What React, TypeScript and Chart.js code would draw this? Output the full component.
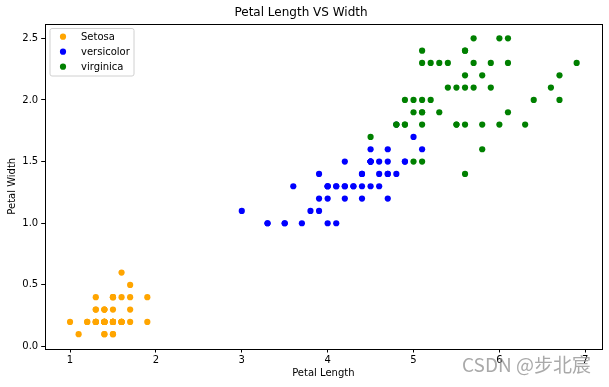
import { useEffect, useRef } from "react";
import { Chart, registerables } from "chart.js";
Chart.register(...registerables);

const seriesNames = ["Setosa", "versicolor", "virginica"];
const seriesColors = ["#FFA500", "#0000FF", "#008000"];

const setosaLength = [1.4, 1.4, 1.3, 1.5, 1.4, 1.7, 1.4, 1.5, 1.4, 1.5, 1.5, 1.6, 1.4, 1.1, 1.2, 1.5, 1.3, 1.4, 1.7, 1.5, 1.7, 1.5, 1.0, 1.7, 1.9, 1.6, 1.6, 1.5, 1.4, 1.6, 1.6, 1.5, 1.5, 1.4, 1.5, 1.2, 1.3, 1.4, 1.3, 1.5, 1.3, 1.3, 1.3, 1.6, 1.9, 1.4, 1.6, 1.4, 1.5, 1.4];
const setosaWidth = [0.2, 0.2, 0.2, 0.2, 0.2, 0.4, 0.3, 0.2, 0.2, 0.1, 0.2, 0.2, 0.1, 0.1, 0.2, 0.4, 0.4, 0.3, 0.3, 0.3, 0.2, 0.4, 0.2, 0.5, 0.2, 0.2, 0.4, 0.2, 0.2, 0.2, 0.2, 0.4, 0.1, 0.2, 0.2, 0.2, 0.2, 0.1, 0.2, 0.2, 0.3, 0.3, 0.2, 0.6, 0.4, 0.3, 0.2, 0.2, 0.2, 0.2];

const versicolorLength = [4.7, 4.5, 4.9, 4.0, 4.6, 4.5, 4.7, 3.3, 4.6, 3.9, 3.5, 4.2, 4.0, 4.7, 3.6, 4.4, 4.5, 4.1, 4.5, 3.9, 4.8, 4.0, 4.9, 4.7, 4.3, 4.4, 4.8, 5.0, 4.5, 3.5, 3.8, 3.7, 3.9, 5.1, 4.5, 4.5, 4.7, 4.4, 4.1, 4.0, 4.4, 4.6, 4.0, 3.3, 4.2, 4.2, 4.2, 4.3, 3.0, 4.1];
const versicolorWidth = [1.4, 1.5, 1.5, 1.3, 1.5, 1.3, 1.6, 1.0, 1.3, 1.4, 1.0, 1.5, 1.0, 1.4, 1.3, 1.4, 1.5, 1.0, 1.5, 1.1, 1.8, 1.3, 1.5, 1.2, 1.3, 1.4, 1.4, 1.7, 1.5, 1.0, 1.1, 1.0, 1.2, 1.6, 1.5, 1.6, 1.5, 1.3, 1.3, 1.3, 1.2, 1.4, 1.2, 1.0, 1.3, 1.2, 1.3, 1.3, 1.1, 1.3];

const virginicaLength = [6.0, 5.1, 5.9, 5.6, 5.8, 6.6, 4.5, 6.3, 5.8, 6.1, 5.1, 5.3, 5.5, 5.0, 5.1, 5.3, 5.5, 6.7, 6.9, 5.0, 5.7, 4.9, 6.7, 4.9, 5.7, 6.0, 4.8, 4.9, 5.6, 5.8, 6.1, 6.4, 5.6, 5.1, 5.6, 6.1, 5.6, 5.5, 4.8, 5.4, 5.6, 5.1, 5.1, 5.9, 5.7, 5.2, 5.0, 5.2, 5.4, 5.1];
const virginicaWidth = [2.5, 1.9, 2.1, 1.8, 2.2, 2.1, 1.7, 1.8, 1.8, 2.5, 2.0, 1.9, 2.1, 2.0, 2.4, 2.3, 1.8, 2.2, 2.3, 1.5, 2.3, 2.0, 2.0, 1.8, 2.1, 1.8, 1.8, 1.8, 2.1, 1.6, 1.9, 2.0, 2.2, 1.5, 1.4, 2.3, 2.4, 1.8, 1.8, 2.1, 2.4, 2.3, 1.9, 2.3, 2.5, 2.3, 1.9, 2.0, 2.3, 1.8];

const xTicks = [1, 2, 3, 4, 5, 6, 7];
const yTicks = [0.0, 0.5, 1.0, 1.5, 2.0, 2.5];

const titleText = "Petal Length VS Width";
const xTitle = "Petal Length";
const yTitle = "Petal Width";
const watermark = "CSDN @步北宸";

const FONT = "'DejaVu Sans', sans-serif";

function toPoints(xs: number[], ys: number[]) {
  return xs.map((x, i) => ({ x, y: ys[i] }));
}

const framePlugin = {
  id: "frame",
  afterDraw(chart: any) {
    const { ctx, chartArea } = chart;
    ctx.save();
    ctx.strokeStyle = "#000";
    ctx.lineWidth = 1;
    ctx.strokeRect(
      Math.round(chartArea.left) + 0.5,
      Math.round(chartArea.top) + 0.5,
      Math.round(chartArea.right) - Math.round(chartArea.left),
      Math.round(chartArea.bottom) - Math.round(chartArea.top)
    );
    ctx.restore();
  },
};

const legendPlugin = {
  id: "mplLegend",
  afterDraw(chart: any) {
    const { ctx } = chart;
    const x0 = 50, y0 = 28.5, w = 84, h = 47.5;
    ctx.save();
    ctx.fillStyle = "rgba(255,255,255,0.8)";
    ctx.strokeStyle = "#d0d0d0";
    ctx.lineWidth = 1;
    ctx.beginPath();
    const r = 2;
    ctx.moveTo(x0 + r, y0);
    ctx.lineTo(x0 + w - r, y0);
    ctx.quadraticCurveTo(x0 + w, y0, x0 + w, y0 + r);
    ctx.lineTo(x0 + w, y0 + h - r);
    ctx.quadraticCurveTo(x0 + w, y0 + h, x0 + w - r, y0 + h);
    ctx.lineTo(x0 + r, y0 + h);
    ctx.quadraticCurveTo(x0, y0 + h, x0, y0 + h - r);
    ctx.lineTo(x0, y0 + r);
    ctx.quadraticCurveTo(x0, y0, x0 + r, y0);
    ctx.closePath();
    ctx.fill();
    ctx.stroke();
    ctx.font = `10px ${FONT}`;
    ctx.textBaseline = "middle";
    ctx.textAlign = "left";
    chart.data.datasets.forEach((ds: any, i: number) => {
      const cy = 36.7 + i * 15;
      ctx.fillStyle = ds.backgroundColor;
      ctx.beginPath();
      ctx.arc(63, cy, 3.1, 0, Math.PI * 2);
      ctx.fill();
      ctx.fillStyle = "#000";
      ctx.fillText(ds.label, 81, cy + 0.5);
    });
    ctx.restore();
  },
};

const watermarkPlugin = {
  id: "watermark",
  afterDraw(chart: any) {
    const { ctx } = chart;
    ctx.save();
    ctx.font = "19px 'Noto Sans CJK SC', sans-serif";
    ctx.fillStyle = "rgba(140,140,140,0.75)";
    ctx.textBaseline = "middle";
    ctx.textAlign = "left";
    ctx.fillText(watermark, 462, 365);
    ctx.restore();
  },
};

export default function App() {
  const ref = useRef<HTMLCanvasElement>(null);
  useEffect(() => {
    document.body.style.margin = "0";
    const datasets = [
      toPoints(setosaLength, setosaWidth),
      toPoints(versicolorLength, versicolorWidth),
      toPoints(virginicaLength, virginicaWidth),
    ].map((data, i) => ({
      label: seriesNames[i],
      data,
      backgroundColor: seriesColors[i],
      borderWidth: 0,
      pointRadius: 3.1,
      order: 2 - i,
    }));
    const chart = new Chart(ref.current!, {
      type: "scatter",
      data: { datasets },
      plugins: [framePlugin, legendPlugin, watermarkPlugin],
      options: {
        animation: false,
        responsive: false,
        devicePixelRatio: 1,
        layout: { padding: { left: 0, right: 7, top: 0, bottom: 0 } },
        plugins: {
          legend: { display: false },
          tooltip: { enabled: false },
          title: {
            display: true,
            text: titleText,
            color: "#000",
            font: { family: FONT, size: 12, weight: "normal" },
            padding: { top: 6, bottom: 3.1 },
          },
        },
        scales: {
          x: {
            type: "linear",
            min: 0.705,
            max: 7.195,
            afterBuildTicks: (s: any) => {
              s.ticks = xTicks.map((v) => ({ value: v }));
            },
            afterFit: (s: any) => {
              s.height = 38;
            },
            ticks: {
              color: "#000",
              font: { family: FONT, size: 10 },
              padding: 2,
              maxRotation: 0,
              autoSkip: false,
              callback: (v: any) => String(v),
            },
            grid: {
              display: true,
              drawOnChartArea: false,
              drawTicks: true,
              tickLength: 3.5,
              color: "#000",
            },
            border: { display: false },
            title: {
              display: true,
              text: xTitle,
              color: "#000",
              font: { family: FONT, size: 10 },
              padding: { top: 0, bottom: 8 },
            },
          },
          y: {
            type: "linear",
            min: -0.02,
            max: 2.62,
            afterBuildTicks: (s: any) => {
              s.ticks = yTicks.map((v) => ({ value: v }));
            },
            afterFit: (s: any) => {
              s.width = 44.7;
            },
            ticks: {
              color: "#000",
              font: { family: FONT, size: 10 },
              padding: 3,
              autoSkip: false,
              callback: (v: any) => Number(v).toFixed(1),
            },
            grid: {
              display: true,
              drawOnChartArea: false,
              drawTicks: true,
              tickLength: 3.5,
              color: "#000",
            },
            border: { display: false },
            title: {
              display: true,
              text: yTitle,
              color: "#000",
              font: { family: FONT, size: 10 },
              padding: { top: 6, bottom: 0 },
            },
          },
        },
      },
    } as any);
    return () => chart.destroy();
  }, []);
  return (
    <div style={{ position: "relative", width: 609, height: 387 }}>
      <canvas ref={ref} width={609} height={387} />
    </div>
  );
}
